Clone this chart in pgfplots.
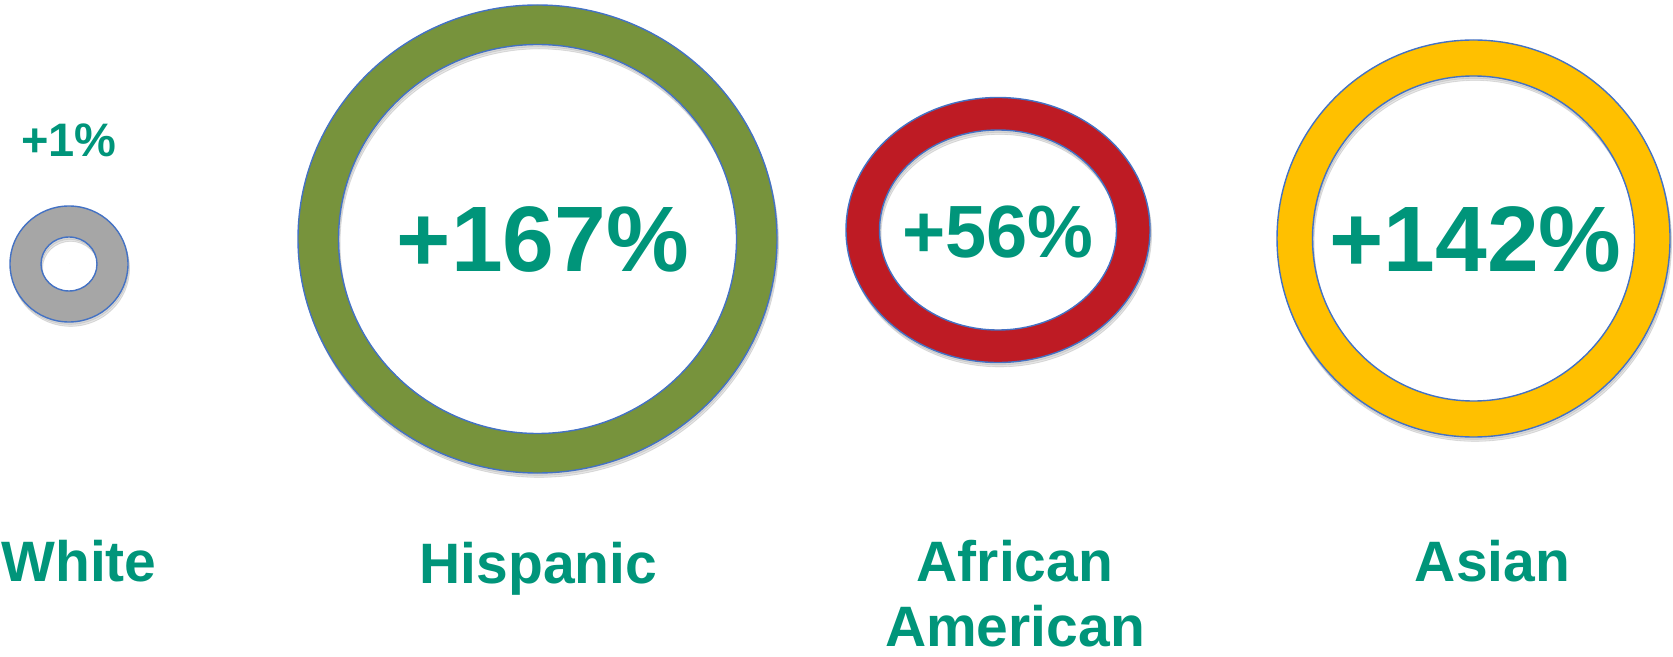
\documentclass[border=0pt]{standalone}
\usepackage{fontspec}
\setmainfont{Liberation Sans}
\usepackage{pgfplots}
\pgfplotsset{compat=1.18}
\usepackage{pgfplotstable}
\definecolor{txtteal}{HTML}{00957A}
\definecolor{ringblue}{HTML}{4472C4}
\definecolor{rgray}{HTML}{A6A6A6}
\definecolor{rgreen}{HTML}{77933C}
\definecolor{rred}{HTML}{BE1B24}
\definecolor{ryellow}{HTML}{FFC000}

% columns: centre x, centre y (pixels from top), outer radii, inner radii
\pgfplotstableread{
x y rx ry irx iry
69 264 59 58 28 27
}\whitetab
\pgfplotstableread{
x y rx ry irx iry
537.5 239 239.5 234 199 194.5
}\hisptab
\pgfplotstableread{
x y rx ry irx iry
998 230 152 132.5 118.5 100
}\afrtab
\pgfplotstableread{
x y rx ry irx iry
1473.5 238.5 196.5 198.5 161 162.5
}\asiantab

\pgfplotsset{
  ring/.style={
    only marks, scatter, mark=*, mark size=0pt,
    mark options={draw=none,fill=none},
    visualization depends on={0.5*\thisrow{rx} \as \rx},
    visualization depends on={0.5*\thisrow{ry} \as \ry},
    visualization depends on={0.5*\thisrow{irx} \as \irx},
    visualization depends on={0.5*\thisrow{iry} \as \iry},
    scatter/@pre marker code/.code={
      \fill[black, opacity=0.10, even odd rule]
        (0.8pt,-2.2pt) ellipse [x radius=\rx pt, y radius=\ry pt]
        (0.8pt,-2.2pt) ellipse [x radius=\irx pt, y radius=\iry pt];
      \fill[black, opacity=0.07, even odd rule]
        (0.4pt,-1.2pt) ellipse [x radius=\rx pt, y radius=\ry pt]
        (0.4pt,-1.2pt) ellipse [x radius=\irx pt, y radius=\iry pt];
      \path[fill=#1, draw=ringblue, line width=0.7pt, even odd rule]
        (0,0) ellipse [x radius=\rx pt, y radius=\ry pt]
        (0,0) ellipse [x radius=\irx pt, y radius=\iry pt];
    },
    scatter/@post marker code/.code={},
  }
}

\begin{document}
\begin{tikzpicture}
\begin{axis}[
  x=0.5pt, y=0.5pt, y dir=reverse,
  xmin=0, xmax=1673, ymin=0, ymax=657,
  hide axis, clip=false,
]
\addplot[draw=none, mark=none, forget plot] coordinates {(0,0) (1673,657)};
\addplot[ring=rgray] table {\whitetab};
\addplot[ring=rgreen] table {\hisptab};
\addplot[ring=rred] table {\afrtab};
\addplot[ring=ryellow] table {\asiantab};

\begin{scope}[every node/.style={text=txtteal, anchor=base, inner sep=0pt, font=\bfseries}]
\node[font=\fontsize{23.5}{28}\selectfont\bfseries] at (axis cs:69,157) {+1\%};
\node[font=\fontsize{46.5}{55}\selectfont\bfseries] at (axis cs:543,272) {+167\%};
\node[font=\fontsize{37}{44}\selectfont\bfseries] at (axis cs:998,258) {+56\%};
\node[font=\fontsize{46.5}{55}\selectfont\bfseries] at (axis cs:1475.5,272) {+142\%};
\node[font=\fontsize{28.5}{34}\selectfont\bfseries] at (axis cs:79,581) {White};
\node[font=\fontsize{28.5}{34}\selectfont\bfseries] at (axis cs:538.5,583) {Hispanic};
\node[font=\fontsize{28.5}{34}\selectfont\bfseries] at (axis cs:1015,581) {African};
\node[font=\fontsize{28.5}{34}\selectfont\bfseries] at (axis cs:1015,646) {American};
\node[font=\fontsize{28.5}{34}\selectfont\bfseries] at (axis cs:1492.5,581) {Asian};
\end{scope}
\end{axis}
\end{tikzpicture}
\end{document}
